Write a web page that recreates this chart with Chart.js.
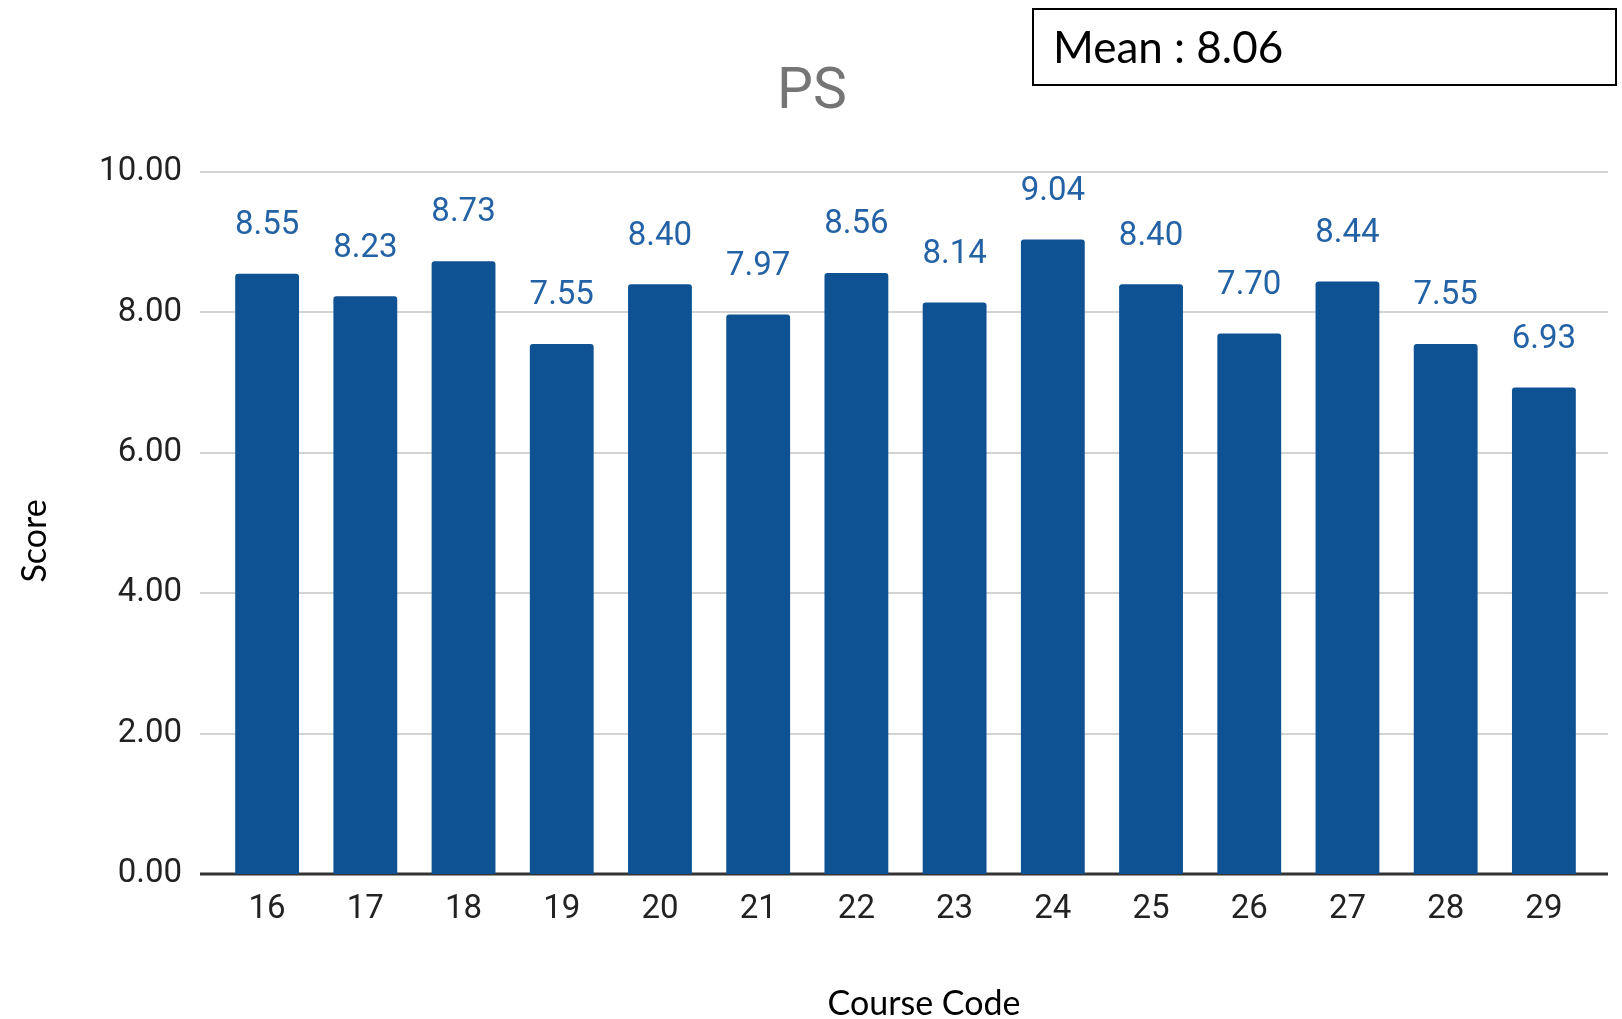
<!DOCTYPE html>
<html>
<head>
<meta charset="utf-8">
<script src="https://cdn.jsdelivr.net/npm/chart.js@4/dist/chart.umd.min.js"></script>
<style>
    html, body { margin: 0; padding: 0; background: #fff; }
    #wrap { width: 1622px; height: 1019px; position: relative; }
</style>
</head>
<body>
<div id="wrap"><canvas id="chart" width="1622" height="1019"></canvas></div>
<script>
// data
var courseCodes = ["16", "17", "18", "19", "20", "21", "22", "23", "24", "25", "26", "27", "28", "29"];
var scores = [8.55, 8.23, 8.73, 7.55, 8.40, 7.97, 8.56, 8.14, 9.04, 8.40, 7.70, 8.44, 7.55, 6.93];
var yTicks = [0, 2, 4, 6, 8, 10];
var meanScore = 8.06;
var chartTitle = "PS";
var xTitle = "Course Code";
var yTitle = "Score";

// gridlines go a bit past the bars, like the original
var gridPlugin = {
    id: "gridExtend",
    beforeDatasetsDraw: function(chart) {
        var ctx = chart.ctx,
            y = chart.scales.y,
            area = chart.chartArea;

        ctx.save();
        yTicks.forEach(function(v) {
            var py = Math.round(y.getPixelForValue(v));

            ctx.beginPath();
            if (v === 0) {
                ctx.strokeStyle = "#333333";
                ctx.lineWidth = 3;
            } else {
                ctx.strokeStyle = "#d3d3d3";
                ctx.lineWidth = 2;
            }
            ctx.moveTo(area.left - 18, py);
            ctx.lineTo(area.right + 15, py);
            ctx.stroke();
        });
        ctx.restore();
    }
};

var labelPlugin = {
    id: "barLabels",
    afterDatasetsDraw: function(chart) {
        var ctx = chart.ctx,
            meta = chart.getDatasetMeta(0);

        ctx.save();
        ctx.font = "33px Roboto";
        ctx.fillStyle = "#2462a6";
        ctx.textAlign = "center";
        ctx.textBaseline = "middle";
        meta.data.forEach(function(bar, i) {
            ctx.fillText(scores[i].toFixed(2), bar.x, bar.y - 48);
        });
        ctx.restore();
    }
};

var textPlugin = {
    id: "extraText",
    afterDraw: function(chart) {
        var ctx = chart.ctx;

        ctx.save();
        // title
        ctx.font = "57px Roboto";
        ctx.fillStyle = "#757575";
        ctx.textAlign = "center";
        ctx.textBaseline = "middle";
        ctx.fillText(chartTitle, 812, 94);

        // mean box
        ctx.strokeStyle = "#000";
        ctx.lineWidth = 2;
        ctx.strokeRect(1033, 9, 583, 76);
        ctx.font = "44px Lato";
        ctx.fillStyle = "#000";
        ctx.textAlign = "left";
        ctx.fillText("Mean : " + meanScore.toFixed(2), 1053, 49);

        // axis titles
        ctx.font = "34px Lato";
        ctx.textAlign = "center";
        ctx.fillText(xTitle, 924, 1004);

        ctx.translate(35, 541);
        ctx.rotate(-Math.PI / 2);
        ctx.fillText(yTitle, 0, 0);
        ctx.restore();
    }
};

var chart = new Chart("chart", {
    type: "bar",
    data: {
        labels: courseCodes,
        datasets: [
            {
                data: scores,
                backgroundColor: "#0e5294",
                borderRadius: 3,
                borderSkipped: "bottom",
                barPercentage: 0.65,
                categoryPercentage: 1
            }
        ]
    },
    options: {
        responsive: false,
        animation: false,
        layout: {
            padding: { left: 0, right: 29, top: 172, bottom: 0 }
        },
        plugins: {
            legend: { display: false },
            tooltip: { enabled: false }
        },
        scales: {
            x: {
                grid: { display: false, drawTicks: false },
                border: { display: false },
                ticks: {
                    color: "#222",
                    font: { family: "Roboto", size: 33 },
                    padding: 16
                },
                afterFit: function(scale) {
                    scale.height = 145;
                }
            },
            y: {
                min: 0,
                max: 10,
                grid: { display: false, drawTicks: false },
                border: { display: false },
                ticks: {
                    stepSize: 2,
                    color: "#222",
                    font: { family: "Roboto", size: 33 },
                    padding: 36,
                    callback: function(v) {
                        return v.toFixed(2);
                    }
                },
                afterFit: function(scale) {
                    scale.width = 218;
                }
            }
        }
    },
    plugins: [gridPlugin, labelPlugin, textPlugin]
});
</script>
</body>
</html>
